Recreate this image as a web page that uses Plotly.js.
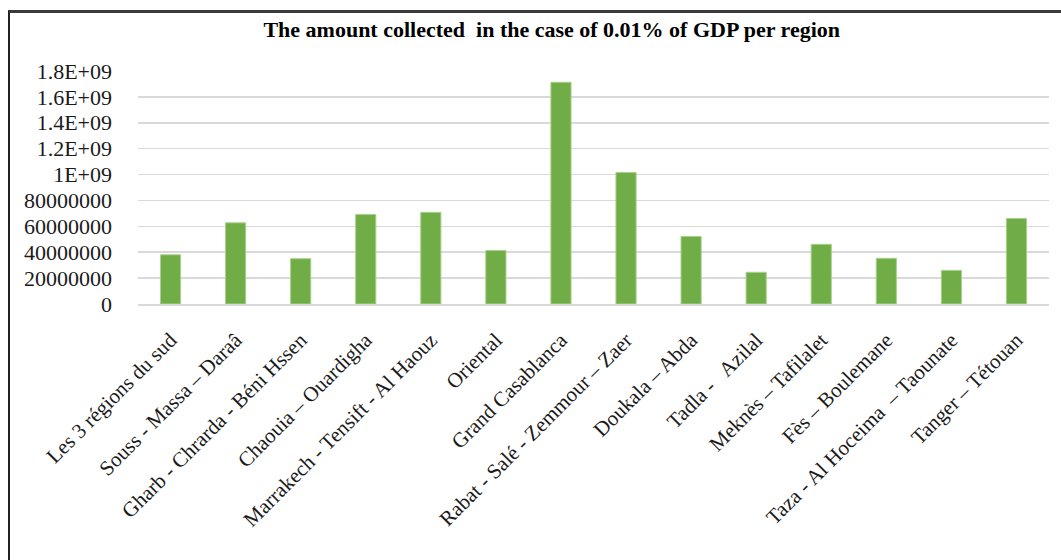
<!DOCTYPE html>
<html>
<head>
<meta charset="utf-8">
<script src="https://cdn.plot.ly/plotly-3.0.1.min.js"></script>
<style>
  html, body { margin: 0; padding: 0; background: #fff; }
  #wrap { position: relative; width: 1061px; height: 560px; overflow: hidden; }
  #chart { position: absolute; left: 0; top: 0; width: 1061px; height: 560px; }
  #frame { position: absolute; left: 8px; top: 10px; width: 1100px; height: 600px;
           border-left: 2px solid #222; border-top: 3px solid #3a3a3a; pointer-events: none; }
</style>
</head>
<body>
<div id="wrap">
  <div id="chart"></div>
  <div id="frame"></div>
</div>
<script>
const regions = [
  "Les 3 régions du sud",
  "Souss - Massa – Daraâ",
  "Gharb - Chrarda - Béni Hssen",
  "Chaouia – Ouardigha",
  "Marrakech - Tensift - Al Haouz",
  "Oriental",
  "Grand Casablanca",
  "Rabat - Salé - Zemmour – Zaer",
  "Doukala – Abda",
  "Tadla -\u00a0\u00a0 Azilal",
  "Meknès – Tafilalet",
  "Fès – Boulemane",
  "Taza - Al Hoceima\u00a0 – Taounate",
  "Tanger – Tétouan"
];
const amounts = [
  380000000, 627000000, 350000000, 692000000, 708000000, 414000000,
  1713000000, 1016000000, 522000000, 245000000, 461000000, 353000000,
  260000000, 661000000
];
const tickValues = [0, 200000000, 400000000, 600000000, 800000000, 1000000000,
  1200000000, 1400000000, 1600000000, 1800000000];
const tickLabels = ["0", "20000000", "40000000", "60000000", "80000000", "1E+09",
  "1.2E+09", "1.4E+09", "1.6E+09", "1.8E+09"];
const chartTitle = "The amount collected\u00a0 in the case of 0.01% of GDP per region";

const trace = {
  type: "bar",
  x: regions,
  y: amounts,
  width: 0.31,
  marker: { color: "#70ad47", line: { color: "#a9d18e", width: 1 } },
  hoverinfo: "x+y"
};

const layout = {
  width: 1061,
  height: 560,
  margin: { l: 138, r: 12, t: 71, b: 256, pad: 0 },
  paper_bgcolor: "#ffffff",
  plot_bgcolor: "#ffffff",
  showlegend: false,
  title: {
    text: "<b>" + chartTitle + "</b>",
    x: 0.52, xanchor: "center", y: 0.948, yanchor: "middle",
    font: { family: "Liberation Serif, Times New Roman, serif", size: 22, color: "#000" }
  },
  xaxis: {
    type: "category",
    tickangle: -45,
    tickfont: { family: "Liberation Serif, Times New Roman, serif", size: 21, color: "#1a1a1a" },
    showgrid: false,
    showline: true, linecolor: "#d9d9d9", linewidth: 1.5,
    ticks: "", ticklabelstandoff: 14,
    range: [-0.5, 13.5]
  },
  yaxis: {
    range: [0, 1800000000],
    tickmode: "array",
    tickvals: tickValues,
    ticktext: tickLabels,
    tickfont: { family: "Liberation Serif, Times New Roman, serif", size: 22, color: "#1a1a1a" },
    showgrid: true, gridcolor: "#d9d9d9", gridwidth: 1.5,
    zeroline: false, showline: false, ticks: "",
    ticklabelstandoff: 25
  }
};

Plotly.newPlot("chart", [trace], layout, { displayModeBar: false, staticPlot: true });
</script>
</body>
</html>
